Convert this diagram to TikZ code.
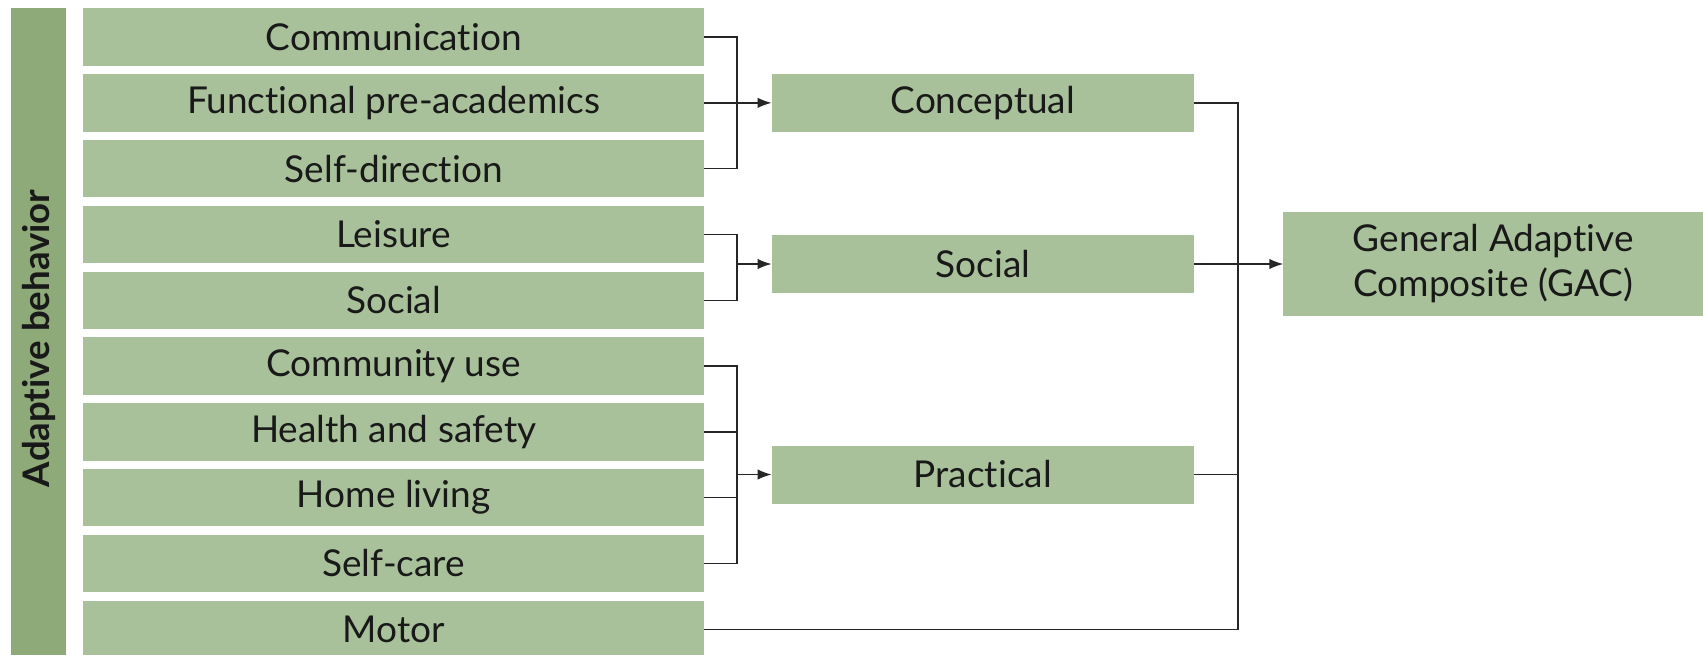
\documentclass[tikz,border=0pt]{standalone}
\usepackage{fontspec}
\setmainfont{Lato}[Ligatures={NoCommon,NoRare,NoDiscretionary},Contextuals=NoAlternate]
\usetikzlibrary{arrows.meta,calc}
\definecolor{boxgreen}{RGB}{169,193,155}
\definecolor{bargreen}{RGB}{142,170,120}
\begin{document}
\begin{tikzpicture}[x=0.5pt,y=-0.5pt,
  every node/.style={inner sep=0pt,outer sep=0pt,text=black!90},
  itembox/.style={fill=boxgreen,minimum width=310.3pt,minimum height=28.75pt,font=\fontsize{18.5}{22}\selectfont},
  domainbox/.style={fill=boxgreen,minimum width=211.2pt,minimum height=29pt,font=\fontsize{18.5}{22}\selectfont},
  link/.style={line width=0.7pt,draw=black!85},
  arr/.style={link,-{Latex[length=7pt,width=5.2pt]}}]
\useasboundingbox (0,0) rectangle (1703,654);
\clip (0,0) rectangle (1703,654);

% vertical side label
\node[fill=bargreen,minimum width=27.85pt,minimum height=330pt,anchor=north] (side) at (38.55,8.3)
  {\rotatebox{90}{\fontsize{18.3}{22}\selectfont\bfseries Adaptive behavior}};

% adaptive skill areas
\foreach \n/\t [count=\i from 0] in {comm/Communication,func/Functional pre-academics,sdir/Self-direction,
  leis/Leisure,socl/Social,cuse/Community use,hlth/Health and safety,home/Home living,scar/Self-care,motr/Motor}
  \node[itembox] (\n) at (393.7,37.05+65.8*\i) {\t};

% domains
\node[domainbox] (concept) at (982.8,102.85) {Conceptual};
\node[domainbox] (social)  at (982.8,264) {Social};
\node[domainbox] (practical) at (982.8,474.5) {Practical};

% composite
\node[fill=boxgreen,minimum width=209.85pt,minimum height=51.7pt,align=center,
  font=\fontsize{18.5}{22.5}\selectfont] (gac) at (1493.15,264) {General Adaptive\\Composite (GAC)};

% junction points
\coordinate (jc) at (737,102.85);
\coordinate (js) at (737,264);
\coordinate (jp) at (737,474.5);
\coordinate (jg) at (1238,264);

% conceptual
\draw[link] (comm.east) -| (jc) |- (sdir.east);
\draw[arr] (func.east) -- (concept.west);
% social
\draw[link] (leis.east) -| (js) |- (socl.east);
\draw[arr] (js) -- (social.west);
% practical
\draw[link] (cuse.east) -| (jp) |- (scar.east);
\draw[link] (hlth.east) -- (hlth.east -| jp);
\draw[link] (home.east) -- (home.east -| jp);
\draw[arr] (jp) -- (practical.west);
% general composite
\draw[link] (concept.east) -| (jg) |- (motr.east);
\draw[link] (practical.east) -- (practical.east -| jg);
\draw[arr] (social.east) -- (gac.west);
\end{tikzpicture}
\end{document}
